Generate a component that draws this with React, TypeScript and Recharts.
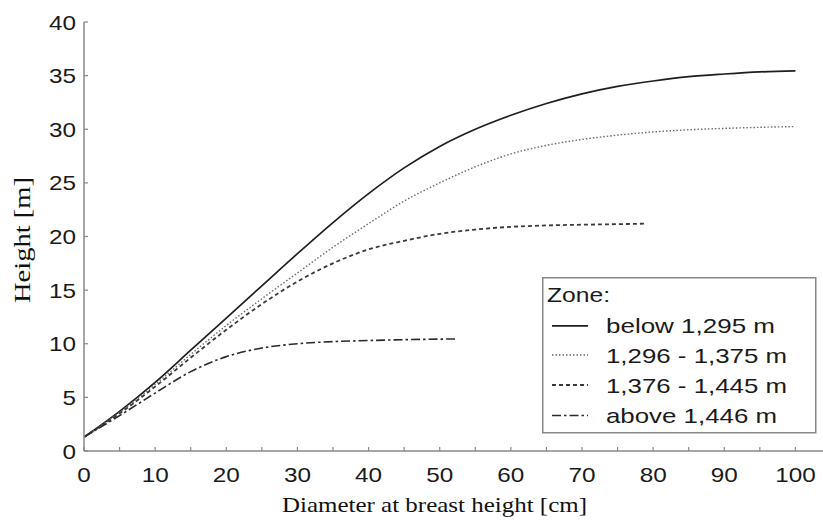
import React from 'react';
import { LineChart, Line, XAxis, YAxis, Legend } from 'recharts';

// ---- data ----
const zoneTitle = 'Zone:';
const zoneNames = ['below 1,295 m', '1,296 - 1,375 m', '1,376 - 1,445 m', 'above 1,446 m'];

const dbhBelow1295 = [0, 5, 10, 15, 20, 25, 30, 35, 40, 45, 50, 55, 60, 65, 70, 75, 80, 85, 90, 95, 100];
const heightBelow1295 = [1.3, 3.7, 6.4, 9.4, 12.4, 15.4, 18.4, 21.3, 24.0, 26.4, 28.4, 30.0, 31.3, 32.4, 33.3, 34.0, 34.5, 34.9, 35.15, 35.35, 35.45];

const dbh1296to1375 = [0, 5, 10, 15, 20, 25, 30, 35, 40, 45, 50, 55, 60, 65, 70, 75, 80, 85, 90, 95, 100];
const height1296to1375 = [1.3, 3.6, 6.2, 9.0, 11.7, 14.2, 16.6, 19.0, 21.2, 23.3, 25.0, 26.5, 27.7, 28.5, 29.05, 29.45, 29.75, 29.95, 30.08, 30.18, 30.25];

const dbh1376to1445 = [0, 5, 10, 15, 20, 25, 30, 35, 40, 45, 50, 55, 60, 65, 70, 75, 79];
const height1376to1445 = [1.3, 3.5, 6.0, 8.7, 11.3, 13.7, 15.8, 17.5, 18.8, 19.6, 20.25, 20.65, 20.9, 21.03, 21.1, 21.15, 21.2];

const dbhAbove1446 = [0, 5, 10, 15, 20, 25, 30, 35, 40, 45, 50, 52.5];
const heightAbove1446 = [1.3, 3.3, 5.4, 7.4, 8.8, 9.6, 10.0, 10.2, 10.3, 10.38, 10.43, 10.45];

const xTicks = [0, 5, 10, 15, 20, 25, 30, 35, 40, 45, 50, 55, 60, 65, 70, 75, 80, 85, 90, 95, 100, 105];
const xLabelTicks = [0, 10, 20, 30, 40, 50, 60, 70, 80, 90, 100];
const yTicks = [0, 5, 10, 15, 20, 25, 30, 35, 40];

const xTitle = 'Diameter at breast height [cm]';
const yTitle = 'Height [m]';

// ---- build series ----
const toPoints = (xs: number[], ys: number[]) => xs.map((x, i) => ({ x, y: ys[i] }));

const seriesStyles = [
  { stroke: '#1e1e1e', strokeWidth: 1.7, dash: undefined as string | undefined },
  { stroke: '#6a6a6a', strokeWidth: 1.4, dash: '1.5 2' },
  { stroke: '#3a3a3a', strokeWidth: 1.8, dash: '4 3' },
  { stroke: '#2a2a2a', strokeWidth: 1.6, dash: '9 3 2.5 3' },
];

const series = [
  toPoints(dbhBelow1295, heightBelow1295),
  toPoints(dbh1296to1375, height1296to1375),
  toPoints(dbh1376to1445, height1376to1445),
  toPoints(dbhAbove1446, heightAbove1446),
];

const SANS = '"Liberation Sans", Arial, Helvetica, sans-serif';
const SERIF = '"Liberation Serif", "Times New Roman", serif';
const AXIS_COLOR = '#888';

const BottomTick = (props: any) => {
  const { x, y, payload } = props;
  const v = payload.value;
  const label = xLabelTicks.includes(v) ? String(v) : null;
  return (
    <g>
      <line x1={x} x2={x} y1={y} y2={y - 4} stroke={AXIS_COLOR} strokeWidth={1.2} />
      {label && (
        <text
          x={x}
          y={y + 31}
          textAnchor="middle"
          fontFamily={SANS}
          fontSize={21}
          fill="#1a1a1a"
          textLength={label.length * 13.5}
          lengthAdjust="spacingAndGlyphs"
        >
          {label}
        </text>
      )}
    </g>
  );
};

const TopTick = (props: any) => {
  const { x, y } = props;
  return <line x1={x} x2={x} y1={y} y2={y + 4} stroke={AXIS_COLOR} strokeWidth={1.2} />;
};

const LeftTick = (props: any) => {
  const { x, y, payload } = props;
  const label = String(payload.value);
  return (
    <g>
      <line x1={x} x2={x + 4} y1={y} y2={y} stroke={AXIS_COLOR} strokeWidth={1.2} />
      <text
        x={x - 8}
        y={y + 7.5}
        textAnchor="end"
        fontFamily={SANS}
        fontSize={21}
        fill="#1a1a1a"
        textLength={label.length * 13.5}
        lengthAdjust="spacingAndGlyphs"
      >
        {label}
      </text>
    </g>
  );
};

const XTitle = () => (
  <text
    x={282}
    y={512}
    textAnchor="start"
    fontFamily={SERIF}
    fontSize={22}
    fill="#111"
    textLength={305}
    lengthAdjust="spacingAndGlyphs"
  >
    {xTitle}
  </text>
);

const YTitle = () => (
  <text
    x={0}
    y={0}
    transform="translate(30,240) rotate(-90)"
    textAnchor="middle"
    fontFamily={SERIF}
    fontSize={23}
    fill="#111"
    textLength={126}
    lengthAdjust="spacingAndGlyphs"
  >
    {yTitle}
  </text>
);

const legendTextLengths = [169, 181, 181, 171];
const legendBaselines = [56.3, 85.5, 115.5, 146];

const LegendBox = () => (
  <svg width={276} height={158} style={{ display: 'block' }}>
    <rect x={0.75} y={0.75} width={273} height={155} fill="#fff" stroke={AXIS_COLOR} strokeWidth={1.5} />
    <text x={5} y={24.7} fontFamily={SANS} fontSize={21} fill="#1a1a1a" textLength={63} lengthAdjust="spacingAndGlyphs">
      {zoneTitle}
    </text>
    {zoneNames.map((name, i) => (
      <g key={name}>
        <line
          x1={10}
          x2={46}
          y1={legendBaselines[i] - 7.5}
          y2={legendBaselines[i] - 7.5}
          stroke={seriesStyles[i].stroke}
          strokeWidth={seriesStyles[i].strokeWidth}
          strokeDasharray={seriesStyles[i].dash}
        />
        <text
          x={64}
          y={legendBaselines[i]}
          fontFamily={SANS}
          fontSize={21}
          fill="#1a1a1a"
          textLength={legendTextLengths[i]}
          lengthAdjust="spacingAndGlyphs"
        >
          {name}
        </text>
      </g>
    ))}
  </svg>
);

export default function App() {
  return (
    <div style={{ position: 'absolute', left: 0, top: 0, width: 823, height: 520, overflow: 'hidden', background: '#fff' }}>
      <LineChart width={831} height={520} margin={{ top: 22, right: 0, bottom: 0, left: 0 }}>
        <XAxis
          xAxisId={0}
          type="number"
          dataKey="x"
          domain={[0, 105]}
          ticks={xTicks}
          interval={0}
          allowDataOverflow
          height={69}
          tickSize={0}
          tickMargin={0}
          tickLine={false}
          axisLine={{ stroke: AXIS_COLOR, strokeWidth: 1.5 }}
          tick={<BottomTick />}
          label={<XTitle />}
        />
        <XAxis
          xAxisId="top"
          orientation="top"
          type="number"
          dataKey="x"
          domain={[0, 105]}
          ticks={xTicks}
          interval={0}
          allowDataOverflow
          height={0}
          tickSize={0}
          tickMargin={0}
          tickLine={false}
          axisLine={{ stroke: AXIS_COLOR, strokeWidth: 1.5 }}
          tick={<TopTick />}
        />
        <YAxis
          type="number"
          domain={[0, 40]}
          ticks={yTicks}
          interval={0}
          allowDataOverflow
          width={84}
          tickSize={0}
          tickMargin={0}
          tickLine={false}
          axisLine={{ stroke: AXIS_COLOR, strokeWidth: 1.5 }}
          tick={<LeftTick />}
          label={<YTitle />}
        />
        {series.map((pts, i) => (
          <Line
            key={zoneNames[i]}
            data={pts}
            dataKey="y"
            name={zoneNames[i]}
            type="monotone"
            stroke={seriesStyles[i].stroke}
            strokeWidth={seriesStyles[i].strokeWidth}
            strokeDasharray={seriesStyles[i].dash}
            dot={false}
            activeDot={false}
            isAnimationActive={false}
          />
        ))}
        <Legend
          layout="horizontal"
          verticalAlign="middle"
          align="center"
          content={<LegendBox />}
          wrapperStyle={{ position: 'absolute', left: 542, top: 277, width: 276, height: 158 }}
        />
      </LineChart>
    </div>
  );
}
